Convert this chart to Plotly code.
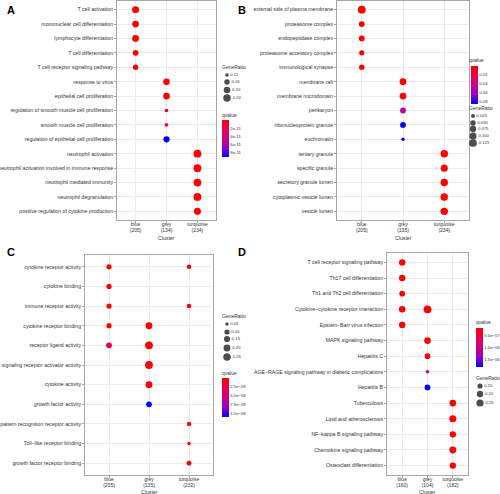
import math
import plotly.graph_objects as go

W, H = 500, 494
FONT = "Liberation Sans, Arial, sans-serif"
TXT = "#333333"

clusters = ["blue", "grey", "turquoise"]

# ---------------- Panel A (GO BP) ----------------
A_terms = ["T cell activation", "mononuclear cell differentiation", "lymphocyte differentiation",
           "T cell differentiation", "T cell receptor signaling pathway", "response to virus",
           "epithelial cell proliferation", "regulation of smooth muscle cell proliferation",
           "smooth muscle cell proliferation", "regulation of epithelial cell proliferation",
           "neutrophil activation", "neutrophil activation involved in immune response",
           "neutrophil mediated immunity", "neutrophil degranulation",
           "positive regulation of cytokine production"]
A_cluster = ["blue", "blue", "blue", "blue", "blue", "grey", "grey", "grey", "grey", "grey",
             "turquoise", "turquoise", "turquoise", "turquoise", "turquoise"]
A_ratio = [0.215, 0.21, 0.21, 0.17, 0.155, 0.20, 0.205, 0.12, 0.12, 0.185,
           0.26, 0.26, 0.26, 0.26, 0.22]
A_q = [1e-16, 2e-15, 3e-15, 1e-13, 5e-13, 1e-14, 1e-14, 1.0e-11, 1.0e-11, 9.0e-11,
       1e-20, 1e-20, 1e-20, 1e-20, 1e-15]
A_counts = [205, 134, 234]
A_size_breaks = [0.12, 0.16, 0.20, 0.24]
A_size_labels = ["0.12", "0.16", "0.20", "0.24"]
A_q_breaks = [2e-11, 4e-11, 6e-11, 8e-11]
A_q_labels = ["2e-11", "4e-11", "6e-11", "8e-11"]

# ---------------- Panel B (GO CC) ----------------
B_terms = ["external side of plasma membrane", "proteasome complex", "endopeptidase complex",
           "proteasome accessory complex", "immunological synapse", "membrane raft",
           "membrane microdomain", "perikaryon", "ribonucleoprotein granule", "euchromatin",
           "tertiary granule", "specific granule", "secretory granule lumen",
           "cytoplasmic vesicle lumen", "vesicle lumen"]
B_cluster = ["blue", "blue", "blue", "blue", "blue", "grey", "grey", "grey", "grey", "grey",
             "turquoise", "turquoise", "turquoise", "turquoise", "turquoise"]
B_ratio = [0.13, 0.06, 0.06, 0.045, 0.05, 0.09, 0.09, 0.06, 0.06, 0.02,
           0.115, 0.10, 0.115, 0.115, 0.115]
B_q = [1e-6, 1e-4, 2e-4, 1e-3, 1e-3, 1e-3, 1e-3, 0.05, 0.085, 0.085,
       1e-10, 1e-9, 1e-9, 1e-9, 1e-9]
B_counts = [205, 135, 234]
B_size_breaks = [0.025, 0.050, 0.075, 0.100, 0.125]
B_size_labels = ["0.025", "0.050", "0.075", "0.100", "0.125"]
B_q_breaks = [0.02, 0.04, 0.06, 0.08]
B_q_labels = ["0.02", "0.04", "0.06", "0.08"]

# ---------------- Panel C (GO MF) ----------------
C_terms = ["cytokine receptor activity", "cytokine binding", "immune receptor activity",
           "cytokine receptor binding", "receptor ligand activity",
           "signaling receptor activator activity", "cytokine activity", "growth factor activity",
           "pattern recognition receptor activity", "Toll\u2212like receptor binding",
           "growth factor receptor binding"]
C_x = ["blue", "turquoise", "blue", "blue", "turquoise", "blue", "grey", "blue", "grey",
       "grey", "grey", "grey", "turquoise", "turquoise", "turquoise"]
C_y = ["cytokine receptor activity", "cytokine receptor activity", "cytokine binding",
       "immune receptor activity", "immune receptor activity", "cytokine receptor binding",
       "cytokine receptor binding", "receptor ligand activity", "receptor ligand activity",
       "signaling receptor activator activity", "cytokine activity", "growth factor activity",
       "pattern recognition receptor activity", "Toll\u2212like receptor binding",
       "growth factor receptor binding"]
C_ratio = [0.10, 0.075, 0.10, 0.10, 0.075, 0.10, 0.20, 0.13, 0.27, 0.27, 0.20, 0.13,
           0.07, 0.05, 0.09]
C_q = [1e-12, 1e-11, 1e-12, 1e-12, 1e-11, 1e-12, 1e-12, 2.0e-9, 1e-13, 1e-13, 1e-12, 1.1e-8,
       1e-11, 1e-11, 1e-11]
C_counts = [205, 135, 232]
C_size_breaks = [0.05, 0.10, 0.15, 0.20, 0.25]
C_size_labels = ["0.05", "0.10", "0.15", "0.20", "0.25"]
C_q_breaks = [2.5e-9, 5.0e-9, 7.5e-9, 1.0e-8]
C_q_labels = ["2.5e\u221209", "5.0e\u221209", "7.5e\u221209", "1.0e\u221208"]

# ---------------- Panel D (KEGG) ----------------
D_terms = ["T cell receptor signaling pathway", "Th17 cell differentiation",
           "Th1 and Th2 cell differentiation", "Cytokine\u2212cytokine receptor interaction",
           "Epstein\u2212Barr virus infection", "MAPK signaling pathway", "Hepatitis C",
           "AGE\u2212RAGE signaling pathway in diabetic complications", "Hepatitis B",
           "Tuberculosis", "Lipid and atherosclerosis", "NF\u2212kappa B signaling pathway",
           "Chemokine signaling pathway", "Osteoclast differentiation"]
D_x = ["blue", "blue", "blue", "blue", "grey", "blue", "grey", "grey", "grey", "grey",
       "turquoise", "turquoise", "turquoise", "turquoise", "turquoise"]
D_y = ["T cell receptor signaling pathway", "Th17 cell differentiation",
       "Th1 and Th2 cell differentiation", "Cytokine\u2212cytokine receptor interaction",
       "Cytokine\u2212cytokine receptor interaction", "Epstein\u2212Barr virus infection",
       "MAPK signaling pathway", "Hepatitis C",
       "AGE\u2212RAGE signaling pathway in diabetic complications", "Hepatitis B",
       "Tuberculosis", "Lipid and atherosclerosis", "NF\u2212kappa B signaling pathway",
       "Chemokine signaling pathway", "Osteoclast differentiation"]
D_ratio = [0.20, 0.20, 0.17, 0.21, 0.29, 0.20, 0.22, 0.17, 0.11, 0.17,
           0.22, 0.24, 0.20, 0.23, 0.20]
D_q = [1.7e-7, 1.7e-7, 1.7e-7, 1.7e-7, 1.7e-7, 1.7e-7, 1.7e-7, 2.2e-7, 9.5e-7, 1.8e-6,
       1.7e-7, 1.7e-7, 1.7e-7, 1.7e-7, 1.7e-7]
D_counts = [160, 104, 182]
D_size_breaks = [0.15, 0.20, 0.25]
D_size_labels = ["0.15", "0.20", "0.25"]
D_q_breaks = [5.0e-7, 1.0e-6, 1.5e-6]
D_q_labels = ["5.0e\u221207", "1.0e\u221206", "1.5e\u221206"]

# ---------------- helpers ----------------
DMIN, DMAX = 2.6, 7.8
COLORSCALE = [[0.0, "#0000FF"], [0.25, "#9A00C3"], [0.5, "#C90089"],
              [0.75, "#E80050"], [1.0, "#FF0000"]]


def size_fn(vals, lo, hi):
    return [DMIN + (DMAX - DMIN) * math.sqrt(max(v - lo, 0) / (hi - lo)) for v in vals]


def px_x(x):
    return x / W


def px_y(y):
    return 1 - y / H


fig = go.Figure()

panels = [
    dict(n=1, x=A_cluster, y=A_terms, terms=A_terms, r=A_ratio, q=A_q, counts=A_counts,
         sb=A_size_breaks, sl=A_size_labels, qb=A_q_breaks, ql=A_q_labels,
         dom=(117, 216, 1, 220), letter="A", lx=5, ct=18,
         sleg=dict(tx=220, ty=67, cx=227, cy=[75, 82, 90, 98]),
         qleg=dict(tx=220, ty=115, bx=222, top=120, bot=157)),
    dict(n=2, x=B_cluster, y=B_terms, terms=B_terms, r=B_ratio, q=B_q, counts=B_counts,
         sb=B_size_breaks, sl=B_size_labels, qb=B_q_breaks, ql=B_q_labels,
         dom=(337, 469, 1, 220), letter="B", lx=236, ct=18,
         sleg=dict(tx=467, ty=108, cx=473, cy=[116, 123, 129, 136, 143]),
         qleg=dict(tx=467, ty=60, bx=471, top=66, bot=104)),
    dict(n=3, x=C_x, y=C_y, terms=C_terms, r=C_ratio, q=C_q, counts=C_counts,
         sb=C_size_breaks, sl=C_size_labels, qb=C_q_breaks, ql=C_q_labels,
         dom=(85, 213, 255, 475), letter="C", lx=5, ct=17,
         sleg=dict(tx=220, ty=316, cx=227, cy=[324, 332, 339, 348, 357]),
         qleg=dict(tx=220, ty=373, bx=222, top=378, bot=417)),
    dict(n=4, x=D_x, y=D_y, terms=D_terms, r=D_ratio, q=D_q, counts=D_counts,
         sb=D_size_breaks, sl=D_size_labels, qb=D_q_breaks, ql=D_q_labels,
         dom=(387, 468, 253, 475), letter="D", lx=236, ct=17,
         sleg=dict(tx=474, ty=378, cx=480, cy=[386, 394, 403]),
         qleg=dict(tx=474, ty=322, bx=476, top=328, bot=367)),
]

annotations = []
layout_axes = {}

for p in panels:
    n = p["n"]
    xa = "xaxis" if n == 1 else f"xaxis{n}"
    ya = "yaxis" if n == 1 else f"yaxis{n}"
    xr = "x" if n == 1 else f"x{n}"
    yr = "y" if n == 1 else f"y{n}"
    ca = "coloraxis" if n == 1 else f"coloraxis{n}"

    lo = min(p["r"]) - 0.006 * (1 if n != 2 else 0.5)
    hi = max(p["r"])
    qmin, qmax = min(p["q"]), max(p["q"])

    fig.add_trace(go.Scatter(
        x=p["x"], y=p["y"], mode="markers", xaxis=xr, yaxis=yr, showlegend=False,
        marker=dict(size=size_fn(p["r"], lo, hi), color=[-v for v in p["q"]],
                    coloraxis=ca, line=dict(width=0), opacity=1),
        hoverinfo="skip"))

    x0, x1, y0, y1 = p["dom"]
    common = dict(showgrid=True, gridcolor="#EBEBEB", gridwidth=0.8, showline=True,
                  mirror=True, linecolor="#A6A6A6", linewidth=0.8, ticks="outside",
                  ticklen=2, tickwidth=0.6, tickcolor="#A6A6A6", zeroline=False,
                  tickfont=dict(family=FONT, size=5.2, color=TXT), automargin=False,
                  fixedrange=True, type="category")
    layout_axes[xa] = dict(common, domain=[px_x(x0), px_x(x1)], anchor=yr,
                           categoryorder="array", categoryarray=clusters,
                           range=[-0.6, 2.6], tickmode="array", tickvals=clusters,
                           ticklabelstandoff=-3,
                           tickfont=dict(family=FONT, size=5.0, color=TXT),
                           ticktext=[f"{c}<br>({k})" for c, k in zip(clusters, p["counts"])])
    nt = len(p["terms"])
    layout_axes[ya] = dict(common, domain=[px_y(y1), px_y(y0)], anchor=xr,
                           categoryorder="array", categoryarray=p["terms"],
                           range=[nt - 1 + 0.6, -0.6], tickmode="array", tickvals=p["terms"],
                           ticktext=p["terms"])

    # colour axis with its colorbar (low q on top, like the reference)
    q = p["qleg"]
    layout_axes[ca] = dict(
        cmin=-qmax, cmax=-qmin, colorscale=COLORSCALE, showscale=True,
        colorbar=dict(x=px_x(q["bx"]), xanchor="left", y=px_y(q["top"]), yanchor="top",
                      len=q["bot"] - q["top"], lenmode="pixels", thickness=7,
                      thicknessmode="pixels", xpad=0, ypad=0, outlinewidth=0,
                      tickmode="array", tickvals=[-v for v in p["qb"]], ticktext=p["ql"],
                      ticks="", tickfont=dict(family=FONT, size=4.2, color=TXT)))
    annotations.append(dict(x=px_x(q["tx"]), y=px_y(q["ty"]), xref="paper", yref="paper",
                            text="qvalue", showarrow=False, xanchor="left", yanchor="middle",
                            font=dict(family=FONT, size=5, color=TXT)))

    # size legend
    s = p["sleg"]
    fig.add_trace(go.Scatter(
        x=[s["cx"]] * len(p["sb"]), y=s["cy"], mode="markers+text", xaxis="x5", yaxis="y5",
        text=p["sl"], textposition="middle right", showlegend=False, cliponaxis=False,
        textfont=dict(family=FONT, size=4.2, color=TXT),
        marker=dict(size=size_fn(p["sb"], lo, hi), color="black", line=dict(width=0)),
        hoverinfo="skip"))
    annotations.append(dict(x=px_x(s["tx"]), y=px_y(s["ty"]), xref="paper", yref="paper",
                            text="GeneRatio", showarrow=False, xanchor="left", yanchor="middle",
                            font=dict(family=FONT, size=5, color=TXT)))

    # panel letter
    annotations.append(dict(x=px_x(p["lx"]), y=px_y(y0 + 9 if n in (1, 2) else 252),
                            xref="paper", yref="paper", text=f"<b>{p['letter']}</b>",
                            showarrow=False, xanchor="left", yanchor="middle",
                            font=dict(family=FONT, size=11, color="black")))
    # x title
    annotations.append(dict(x=px_x((x0 + x1) / 2), y=px_y(y1 + p["ct"]), xref="paper",
                            yref="paper", text="Cluster", showarrow=False, xanchor="center",
                            yanchor="middle", font=dict(family=FONT, size=5.2, color=TXT)))

layout_axes["xaxis5"] = dict(domain=[0, 1], range=[0, W], visible=False, anchor="y5",
                             fixedrange=True)
layout_axes["yaxis5"] = dict(domain=[0, 1], range=[H, 0], visible=False, anchor="x5",
                             fixedrange=True)

fig.update_layout(
    width=W, height=H, margin=dict(l=0, r=0, t=0, b=0),
    paper_bgcolor="white", plot_bgcolor="rgba(0,0,0,0)",
    font=dict(family=FONT, color=TXT), showlegend=False,
    annotations=annotations, **layout_axes)

fig.write_html("out.html", config={"displayModeBar": False},
               post_script="document.body.style.margin='0px';")
